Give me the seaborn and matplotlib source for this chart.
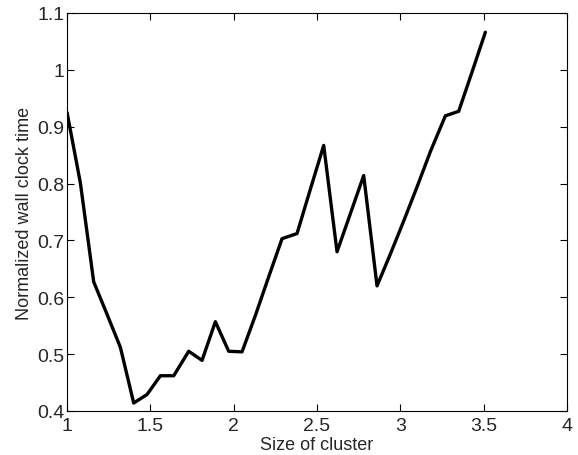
import numpy as np
import pandas as pd
import matplotlib
matplotlib.use('Agg')
import matplotlib.pyplot as plt
import seaborn as sns

# values
cluster_size = [1.00, 1.08, 1.16, 1.24, 1.32, 1.40, 1.48, 1.56, 1.64, 1.73, 1.81,
                1.89, 1.97, 2.05, 2.13, 2.21, 2.29, 2.38, 2.46, 2.54, 2.62, 2.70,
                2.78, 2.86, 2.94, 3.02, 3.10, 3.18, 3.27, 3.35, 3.43, 3.51]
wall_time = [0.925, 0.801, 0.627, 0.570, 0.512, 0.414, 0.429, 0.462, 0.462, 0.505, 0.489,
             0.557, 0.505, 0.504, 0.568, 0.636, 0.703, 0.712, 0.790, 0.867, 0.680, 0.747,
             0.814, 0.620, 0.676, 0.734, 0.794, 0.856, 0.919, 0.927, 0.996, 1.066]
x_ticks = [1, 1.5, 2, 2.5, 3, 3.5, 4]
x_tick_labels = ['1', '1.5', '2', '2.5', '3', '3.5', '4']
y_ticks = [0.4, 0.5, 0.6, 0.7, 0.8, 0.9, 1.0, 1.1]
y_tick_labels = ['0.4', '0.5', '0.6', '0.7', '0.8', '0.9', '1', '1.1']

df = pd.DataFrame({'size': cluster_size, 'time': wall_time})

sns.set_style('ticks')
plt.rcParams['font.family'] = ['Liberation Sans', 'DejaVu Sans']
plt.rcParams['font.size'] = 13

fig = plt.figure(figsize=(5.78, 4.56), dpi=100)
ax = fig.add_axes([0.116, 0.0965, 0.865, 0.873])

sns.lineplot(data=df, x='size', y='time', sort=False, color='black', linewidth=2.4, ax=ax)

ax.set_xlim(1, 4)
ax.set_ylim(0.4, 1.1)
ax.set_xticks(x_ticks)
ax.set_xticklabels(x_tick_labels)
ax.set_yticks(y_ticks)
ax.set_yticklabels(y_tick_labels)
ax.tick_params(direction='in', top=True, right=True, length=5, width=0.8,
               labelsize=14, color='black')
ax.tick_params(axis='x', pad=4)
ax.tick_params(axis='y', pad=2)
for s in ax.spines.values():
    s.set_visible(True)
    s.set_linewidth(0.8)
    s.set_color('black')

ax.set_xlabel('Size of cluster', fontsize=13, labelpad=2)
ax.set_ylabel('Normalized wall clock time', fontsize=13, labelpad=3)

plt.savefig('out.png', dpi=100)
plt.close()
